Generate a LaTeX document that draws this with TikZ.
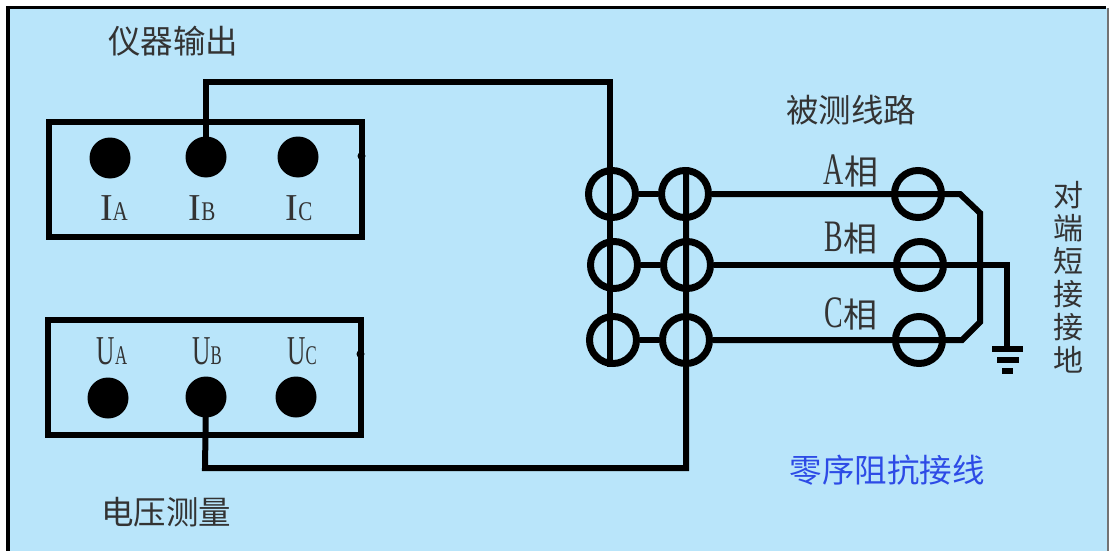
\documentclass[tikz,border=0pt]{standalone}
\usepackage{fontspec}
\setmainfont{Liberation Serif}
\newfontfamily\cjk{Noto Sans CJK SC}
\newfontfamily\narrow{Liberation Serif}[FakeStretch=0.62]
\newfontfamily\midwide{Liberation Serif}[FakeStretch=0.78]
\usetikzlibrary{positioning, calc}

\begin{document}
\begin{tikzpicture}[
      x=1pt, y=-1pt,
      wire/.style={line width=6pt, line join=miter, black},
      panel/.style={rectangle, draw=black, line width=6pt, minimum width=313pt, minimum height=115pt, inner sep=0pt},
      terminal/.style={circle, fill=black, minimum size=41pt, inner sep=0pt},
      ringnode/.style={circle, draw=black, line width=7pt, minimum size=47pt, inner sep=0pt},
      bump/.style={circle, fill=black, minimum size=8pt, inner sep=0pt},
      title/.style={font=\cjk\fontsize{32.5}{32.5}\selectfont, text=black!80, inner sep=0pt},
      phase/.style={font=\narrow\fontsize{45}{45}\selectfont, text=black!80, inner sep=0pt},
      port/.style={font=\narrow\fontsize{41}{41}\selectfont, text=black!80, inner sep=0pt},
      curport/.style={font=\fontsize{38}{38}\selectfont, text=black!80, inner sep=0pt}
      ]
      \newcommand{\subl}[1]{{\fontsize{27}{27}\selectfont #1}}
      \newcommand{\subi}[1]{{\midwide\fontsize{27}{27}\selectfont #1}}
      \newcommand{\xiang}{{\cjk\fontsize{34}{34}\selectfont 相}}

      % Background
      \useasboundingbox (0,0) rectangle (1109,551);
      \fill[white] (0,0) rectangle (1109,551);
      \fill[fill={rgb,255:red,185;green,229;blue,250}] (8,8) rectangle (1108,551);
      \draw[black, line width=3.5pt] (8,551) -- (8,7.5) -- (1106,7.5);
      \draw[black!55, line width=1.5pt] (1108,8) -- (1108,551);

      % Instrument panels
      \node[panel] (output) at (205.5,179.5) {};
      \node[panel] (voltage) at (204.5,377.5) {};
      \node[bump] (outbump) at (361.5,156) {};
      \node[bump] (voltbump) at (360.5,354) {};

      % Terminals
      \node[terminal] (ia) at (110,158) {};
      \node[terminal] (ib) at (206,157) {};
      \node[terminal] (ic) at (298,157) {};
      \node[terminal] (ua) at (108,398) {};
      \node[terminal] (ub) at (206,397) {};
      \node[terminal] (uc) at (296,397) {};

      % Terminal labels
      \node[curport] (ialabel) at (114,208) {I\subi{A}};
      \node[curport] (iblabel) at (202,208) {I\subi{B}};
      \node[curport] (iclabel) at (299,208) {I\subi{C}};
      \node[port] (ualabel) at (112,351) {U\subl{A}};
      \node[port] (ublabel) at (207,351) {U\subl{B}};
      \node[port] (uclabel) at (302,351) {U\subl{C}};

      % Rings, left column and right column
      \node[ringnode] (ra1) at (612,194) {};
      \node[ringnode] (ra2) at (685,194) {};
      \node[ringnode] (rb1) at (614,265) {};
      \node[ringnode] (rb2) at (687,265) {};
      \node[ringnode] (rc1) at (613,340) {};
      \node[ringnode] (rc2) at (686,340) {};

      % Rings on the line
      \node[ringnode] (la) at (918,194) {};
      \node[ringnode] (lb) at (920,265) {};
      \node[ringnode] (lc) at (919,340) {};

      % Corners of the wires
      \coordinate (gnd) at (1007,349);
      \coordinate (cornerb) at (1007,265);
      \coordinate (topi) at (610,82);
      \coordinate (topb) at (206,82);
      \coordinate (botu) at (686,468);
      \coordinate (botb) at (205,468);

      % Wires
      \draw[wire] (ib.center) -- (topb) -- (topi) -- (topi |- rc1.south);
      \draw[wire] (ub.center) -- (botb) -- (botu) -- (botu |- ra2.north);
      \draw[wire] (ra1) -- (ra2);
      \draw[wire] (rb1) -- (rb2);
      \draw[wire] (rc1) -- (rc2);
      \draw[wire] (ra2.east) -- (960,194) -- (980,213) -- (980,322) -- (962,340) -- (rc2.east);
      \draw[wire] (rb2.east) -- (cornerb) -- (gnd);

      % Ground symbol
      \draw[wire] (992,349) -- (1023,349);
      \draw[wire] (997,360) -- (1019,360);
      \draw[wire] (1002,371) -- (1013,371);

      % Titles
      \node[title] (outtitle) at (173,41) {仪器输出};
      \node[title] (meastitle) at (166,512) {电压测量};
      \node[title] (linetitle) at (851,110) {被测线路};
      \node[title, text={rgb,255:red,45;green,75;blue,230}] (wiring) at (887,470) {零序阻抗接线};
      \node[phase] (pa) at (851,171) {A\xiang};
      \node[phase] (pb) at (851,238) {B\xiang};
      \node[phase] (pc) at (851,314) {C\xiang};
      \node[title, align=center, font=\cjk\fontsize{30}{33}\selectfont] (shorted) at (1068,277) {对\\端\\短\\接\\接\\地};

   \end{tikzpicture}
\end{document}
